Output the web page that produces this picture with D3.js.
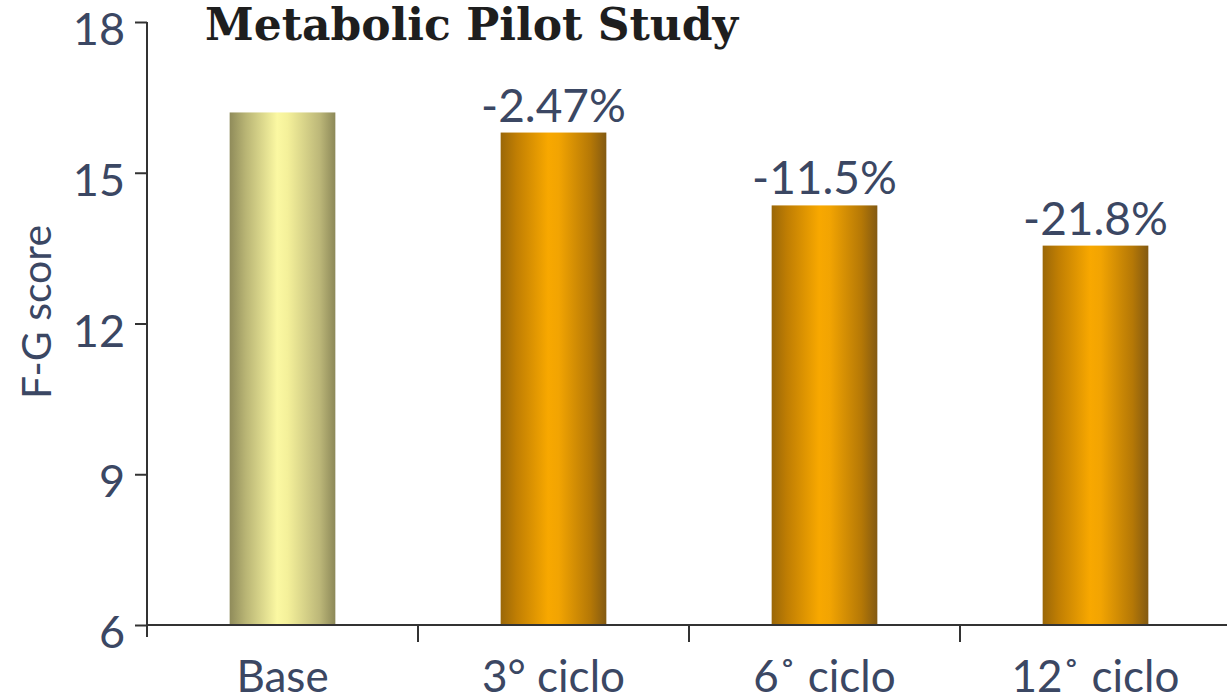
<!DOCTYPE html>
<html>
<head>
<meta charset="utf-8">
<script src="https://cdn.jsdelivr.net/npm/d3@7"></script>
<style>
  html, body { margin: 0; padding: 0; background: #ffffff; }
  svg { display: block; }
</style>
</head>
<body>
<svg id="chart" width="1227" height="700"></svg>
<script>
// F-G score by treatment stage
const categories = ["Base", "3° ciclo", "6˚ ciclo", "12˚ ciclo"];
const scores = [16.2, 15.8, 14.35, 13.55];
const changeLabels = ["", "-2.47%", "-11.5%", "-21.8%"];
const yTicks = [6, 9, 12, 15, 18];
const title = "Metabolic Pilot Study";
const yTitle = "F-G score";

const W = 1227, H = 700;
const svg = d3.select("#chart");
const textColor = "#3b4763";
const font = "Lato, 'Open Sans', sans-serif";

const x = d3.scaleBand()
  .domain(categories)
  .range([147, 1231])
  .paddingInner(0.61)
  .paddingOuter(0.305);

const y = d3.scaleLinear()
  .domain([6, 18])
  .range([625, 22]);

// bar gradients
const defs = svg.append("defs");
function gradient(id, stops) {
  const g = defs.append("linearGradient")
    .attr("id", id).attr("x1", "0%").attr("x2", "100%").attr("y1", "0%").attr("y2", "0%");
  stops.forEach(([o, c]) => g.append("stop").attr("offset", o).attr("stop-color", c));
}
gradient("gBase", [["0%", "#8f8b5a"], ["15%", "#b8b474"], ["45%", "#fbf8a2"], ["55%", "#f4f09a"], ["85%", "#bdb879"], ["100%", "#8c8858"]]);
gradient("gCycle", [["0%", "#9a6708"], ["15%", "#c07e03"], ["45%", "#f8a800"], ["55%", "#f2a402"], ["85%", "#b57806"], ["100%", "#835a12"]]);

// bars
svg.append("g").selectAll("rect")
  .data(categories)
  .join("rect")
  .attr("x", d => x(d))
  .attr("width", x.bandwidth())
  .attr("y", (d, i) => y(scores[i]))
  .attr("height", (d, i) => y(6) - y(scores[i]))
  .attr("fill", (d, i) => i === 0 ? "url(#gBase)" : "url(#gCycle)");

// y axis
const yAxis = d3.axisLeft(y).tickValues(yTicks).tickSize(12).tickPadding(10);
const gy = svg.append("g").attr("transform", "translate(147,0)").call(yAxis);
gy.select(".domain").attr("d", `M0,${y(18)}V${y(6) + 12}`).attr("stroke", "#333").attr("stroke-width", 2);
gy.selectAll(".tick line").attr("stroke", "#333").attr("stroke-width", 2);
gy.selectAll(".tick text")
  .attr("dy", "0.5em")
  .attr("font-family", font).attr("font-size", 45).attr("fill", textColor);

// x axis
const bounds = categories.map(c => x(c) - x.step() * x.paddingInner() / 2);
const gx = svg.append("g");
gx.append("line")
  .attr("x1", 147).attr("x2", W).attr("y1", y(6)).attr("y2", y(6))
  .attr("stroke", "#333").attr("stroke-width", 2);
gx.selectAll("line.tk")
  .data(bounds.slice(1))
  .join("line").attr("class", "tk")
  .attr("x1", d => d).attr("x2", d => d)
  .attr("y1", y(6)).attr("y2", y(6) + 17)
  .attr("stroke", "#333").attr("stroke-width", 2);
gx.selectAll("text")
  .data(categories)
  .join("text")
  .attr("x", d => x(d) + x.bandwidth() / 2)
  .attr("y", 692)
  .attr("text-anchor", "middle")
  .attr("font-family", font).attr("font-size", 44)
  .attr("fill", textColor)
  .text(d => d);

// change labels above bars
svg.append("g").selectAll("text")
  .data(categories)
  .join("text")
  .attr("x", d => x(d) + x.bandwidth() / 2)
  .attr("y", (d, i) => y(scores[i]) - 11)
  .attr("text-anchor", "middle")
  .attr("font-family", font).attr("font-size", 46)
  .attr("fill", textColor)
  .text((d, i) => changeLabels[i]);

// y title
svg.append("text")
  .attr("transform", "translate(51,312) rotate(-90)")
  .attr("text-anchor", "middle")
  .attr("font-family", font).attr("font-size", 41)
  .attr("fill", textColor)
  .text(yTitle);

// chart title
svg.append("text")
  .attr("x", 205).attr("y", 40)
  .attr("font-family", "'DejaVu Serif', serif").attr("font-weight", "bold")
  .attr("font-size", 44)
  .attr("fill", "#1e1e1e")
  .text(title);
</script>
</body>
</html>
